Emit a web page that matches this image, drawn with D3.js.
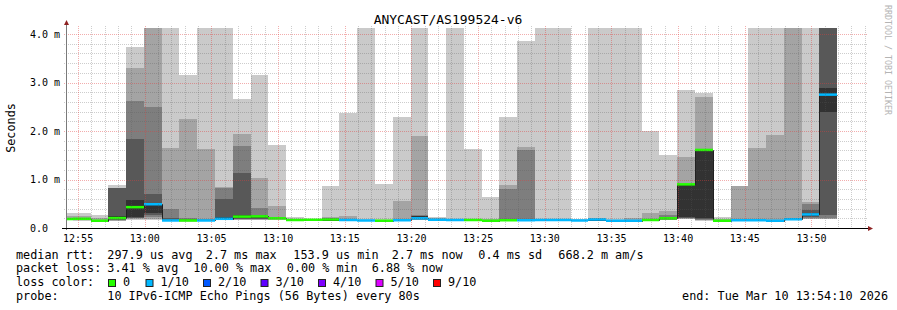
<!DOCTYPE html>
<html>
<head>
<meta charset="utf-8">
<title>ANYCAST/AS199524-v6</title>
<script src="https://cdn.jsdelivr.net/npm/d3@7"></script>
<style>
  body { margin: 0; background: #fff; }
  svg { display: block; font-family: "DejaVu Sans Mono", monospace; }
</style>
</head>
<body>
<svg id="chart" width="897" height="310"></svg>
<script>
// smokeping graph: one column every 80 s, 10 pings per column, values in ms
var stepSeconds = 80;
var median = [0.185, 0.19, 0.15, 0.205, 0.43, 0.49, 0.155, 0.155, 0.155, 0.19,
  0.235, 0.24, 0.2, 0.165, 0.17, 0.175, 0.165, 0.155, 0.15, 0.16,
  0.2, 0.17, 0.165, 0.165, 0.15, 0.16, 0.16, 0.165, 0.165, 0.155,
  0.175, 0.15, 0.15, 0.165, 0.2, 0.9, 1.61, 0.15, 0.16, 0.16,
  0.15, 0.18, 0.28, 2.75];
// lost pings out of 10
var loss = [0, 0, 0, 0, 0, 1, 1, 0, 1, 1,
  0, 0, 0, 0, 0, 0, 1, 1, 0, 1,
  1, 1, 1, 0, 0, 0, 1, 1, 1, 1,
  1, 1, 1, 0, 0, 0, 0, 0, 1, 1,
  1, 1, 1, 1];
// sorted pings (p10 = slowest). 9 = above the scale, null = no value
var p10 = [0.30, 0.31, 0.27, 0.885, 3.74, 9, 9, 3.15, 9, 9,
  2.67, 3.15, 1.71, 0.22, 0.19, 0.87, 2.38, 9, 0.91, 2.29,
  9, 0.23, 9, 1.63, 0.64, 2.29, 3.86, 9, 9, 0.18,
  9, 9, 9, 2.0, 1.5, 2.84, 2.79, 0.22, null, 9,
  9, null, 9, 9];
var p9 = [0.25, 0.24, 0.2, 0.82, 3.30, 9, 1.65, 2.25, 1.62, 0.84,
  1.94, 1.03, 0.45, 0.19, 0.18, 0.23, 0.25, 0.17, 0.17, 0.56,
  1.9, 0.2, 0.19, 0.19, 0.18, 0.885, 1.67, 0.19, 0.19, 0.17,
  0.2, 0.17, 0.2, 0.31, 0.35, 1.47, 2.70, 0.18, 0.87, 1.65,
  1.92, 9, 0.54, 9];
var p8 = [0.21, 0.2, 0.17, 0.82, 2.62, 2.5, 0.40, 0.2, 0.19, 0.82,
  1.69, 0.42, 0.22, 0.18, 0.175, 0.2, 0.19, 0.165, 0.165, 0.19,
  0.26, 0.19, 0.18, 0.18, 0.17, 0.80, 1.61, 0.18, 0.18, 0.165,
  0.19, 0.165, 0.17, 0.19, 0.27, 0.9, 1.61, 0.17, 0.18, 0.18,
  0.17, 0.2, 0.50, 9];
var p7 = [0.2, 0.19, 0.16, 0.82, 1.83, 0.70, 0.2, 0.18, 0.17, 0.6,
  1.14, 0.27, 0.21, 0.175, 0.17, 0.19, 0.175, 0.16, 0.16, 0.17,
  0.25, 0.18, 0.175, 0.175, 0.16, 0.19, 0.19, 0.175, 0.175, 0.16,
  0.185, 0.16, 0.16, 0.175, 0.22, 0.9, 1.61, 0.16, 0.17, 0.17,
  0.16, 0.19, 0.37, 9];
var p6 = [0.19, 0.19, 0.155, 0.24, 0.58, 0.52, 0.17, 0.17, 0.165, 0.22,
  0.27, 0.25, 0.205, 0.17, 0.17, 0.18, 0.17, 0.16, 0.155, 0.165,
  0.24, 0.175, 0.17, 0.17, 0.155, 0.17, 0.17, 0.17, 0.17, 0.16,
  0.18, 0.155, 0.155, 0.17, 0.21, 0.9, 1.61, 0.155, 0.165, 0.165,
  0.155, 0.185, 0.30, 2.88];
var p5 = [0.18, 0.165, 0.15, 0.19, 0.23, 0.30, 0.15, 0.15, 0.15, 0.18,
  0.2, 0.2, 0.19, 0.16, 0.165, 0.17, 0.16, 0.15, 0.15, 0.155,
  0.19, 0.165, 0.16, 0.16, 0.15, 0.155, 0.155, 0.16, 0.16, 0.15,
  0.17, 0.15, 0.15, 0.16, 0.19, 0.23, 0.2, 0.15, 0.155, 0.155,
  0.15, 0.175, 0.24, 2.40];
var p4 = [0.17, 0.16, 0.145, 0.17, 0.21, 0.26, 0.145, 0.14, 0.145, 0.17,
  0.19, 0.19, 0.18, 0.155, 0.16, 0.165, 0.155, 0.15, 0.145, 0.15,
  0.18, 0.16, 0.16, 0.16, 0.145, 0.15, 0.15, 0.16, 0.16, 0.15,
  0.165, 0.145, 0.145, 0.155, 0.18, 0.21, 0.18, 0.145, 0.15, 0.15,
  0.145, 0.17, 0.22, 0.27];
var p3 = [0.17, 0.16, 0.14, 0.16, 0.2, 0.22, 0.14, 0.14, 0.14, 0.165,
  0.18, 0.18, 0.18, 0.15, 0.16, 0.16, 0.15, 0.145, 0.145, 0.15,
  0.17, 0.16, 0.155, 0.155, 0.145, 0.15, 0.15, 0.155, 0.155, 0.145,
  0.16, 0.145, 0.145, 0.15, 0.175, 0.2, 0.17, 0.14, 0.15, 0.15,
  0.145, 0.165, 0.2, 0.2];
var p2 = [0.16, 0.155, 0.14, 0.15, 0.18, 0.19, 0.14, 0.135, 0.14, 0.16,
  0.17, 0.17, 0.17, 0.15, 0.155, 0.16, 0.15, 0.145, 0.14, 0.145,
  0.165, 0.155, 0.15, 0.15, 0.14, 0.145, 0.145, 0.15, 0.15, 0.145,
  0.16, 0.14, 0.14, 0.15, 0.17, 0.19, 0.16, 0.14, 0.145, 0.145,
  0.14, 0.16, 0.19, 0.19];
var p1 = [0.16, 0.15, 0.13, 0.14, 0.17, 0.17, 0.135, 0.13, 0.135, 0.155,
  0.16, 0.16, 0.16, 0.14, 0.15, 0.155, 0.145, 0.14, 0.14, 0.14,
  0.16, 0.15, 0.15, 0.15, 0.14, 0.14, 0.14, 0.15, 0.15, 0.14,
  0.155, 0.14, 0.14, 0.145, 0.165, 0.18, 0.15, 0.135, 0.14, 0.14,
  0.14, 0.155, 0.18, 0.18];

var yTicks = [0, 1, 2, 3, 4];
var yTickLabels = ["0.0", "1.0 m", "2.0 m", "3.0 m", "4.0 m"];
var lossColors = ["#26ff00", "#00b8ff", "#0059ff", "#5e00ff", "#7e00ff", "#dd00ff", "#ff0000"];
var lossLabels = ["0", "1/10", "2/10", "3/10", "4/10", "5/10", "9/10"];
var lossLevel = [0, 1, 2, 3, 4, 5, 9];
var rttStats = ["median rtt:", "297.9 us avg", "2.7 ms max", "153.9 us min", "2.7 ms now", "0.4 ms sd", "668.2 m am/s"];
var lossStats = ["packet loss:", "3.41 % avg", "10.00 % max", "0.00 % min", "6.88 % now"];
var probeText = ["probe:", "10 IPv6-ICMP Echo Pings (56 Bytes) every 80s"];
var endText = "end: Tue Mar 10 13:54:10 2026";

// ---- layout
var tStart = Date.UTC(2026, 2, 10, 12, 54, 10),
    tEnd = Date.UTC(2026, 2, 10, 13, 54, 10),
    firstStepEnd = Date.UTC(2026, 2, 10, 12, 54, 36);
var pLeft = 67, pRight = 867, pTop = 28, pBottom = 228;

var x = d3.scaleUtc().domain([tStart, tEnd]).range([pLeft, pRight]);
var y = d3.scaleLinear().domain([0, 4.124]).range([pBottom, pTop]).clamp(true);

var steps = median.map(function (m, i) {
  return {
    start: firstStepEnd + (i - 1) * stepSeconds * 1000,
    end: firstStepEnd + i * stepSeconds * 1000,
    med: m,
    loss: loss[i],
    hi: [p10[i], p9[i], p8[i], p7[i], p6[i]],
    lo: [p1[i], p2[i], p3[i], p4[i], p5[i]]
  };
});

var svg = d3.select("#chart");
svg.append("rect").attr("width", 897).attr("height", 310).attr("fill", "#fff");

svg.append("defs").append("clipPath").attr("id", "plot")
  .append("rect").attr("x", pLeft).attr("y", pTop)
  .attr("width", pRight - pLeft).attr("height", pBottom - pTop);

var plot = svg.append("g").attr("clip-path", "url(#plot)");

// smoke: band i spans p(i+1) .. p(10-i), darker towards the middle
var shades = [202, 164, 126, 88, 50];
shades.forEach(function (s, b) {
  plot.append("g").attr("shape-rendering", "crispEdges")
    .selectAll("rect")
    .data(steps.filter(function (d) { return d.hi[b] != null && d.lo[b] != null; }))
    .join("rect")
    .attr("x", function (d) { return Math.round(x(d.start)); })
    .attr("width", function (d) { return Math.round(x(d.end)) - Math.round(x(d.start)); })
    .attr("y", function (d) { return Math.round(y(d.hi[b])); })
    .attr("height", function (d) { return Math.round(y(d.lo[b])) - Math.round(y(d.hi[b])); })
    .attr("fill", d3.rgb(s, s, s));
});

// thin dark median line
var medPts = steps.map(function (d) { return [d.start, d.med]; });
medPts.push([steps[steps.length - 1].end, steps[steps.length - 1].med]);
plot.append("path")
  .attr("d", d3.line().curve(d3.curveStepAfter)
    .x(function (d) { return Math.round(x(d[0])) + 0.5; })
    .y(function (d) { return Math.round(y(d[1])) + 0.5; })(medPts))
  .attr("fill", "none").attr("stroke", "#202020").attr("stroke-width", 1);

// median coloured by loss
plot.append("g").selectAll("rect").data(steps).join("rect")
  .attr("x", function (d) { return Math.round(x(d.start)); })
  .attr("width", function (d) { return Math.round(x(d.end)) - Math.round(x(d.start)); })
  .attr("y", function (d) { return y(d.med) - 1.25; })
  .attr("height", 2.5)
  .attr("fill", function (d) { return lossColors[lossLevel.indexOf(d.loss)]; });

// grid (drawn over the data, like rrdtool)
var grid = svg.append("g").attr("shape-rendering", "crispEdges").attr("stroke-dasharray", "1,1");
var minorT = d3.utcMinute.every(1).range(tStart, tEnd);
var majorT = d3.utcMinute.every(5).range(tStart, tEnd);
var majorSet = majorT.map(function (d) { return +d; });
var minorV = d3.range(0.2, 4.124, 0.2).filter(function (v) { return Math.abs(v - Math.round(v)) > 0.01; });
var minorCol = "rgba(90,90,90,0.3)", majorCol = "rgba(225,60,60,0.42)";

grid.selectAll(".vmin").data(minorT.filter(function (d) { return majorSet.indexOf(+d) < 0; }))
  .join("line").attr("class", "vmin")
  .attr("x1", function (d) { return Math.round(x(d)) + 0.5; })
  .attr("x2", function (d) { return Math.round(x(d)) + 0.5; })
  .attr("y1", pTop - 2).attr("y2", pBottom + 2)
  .attr("stroke", minorCol);
grid.selectAll(".hmin").data(minorV).join("line").attr("class", "hmin")
  .attr("x1", pLeft - 3).attr("x2", pRight + 1)
  .attr("y1", function (d) { return Math.round(y(d)) + 0.5; })
  .attr("y2", function (d) { return Math.round(y(d)) + 0.5; })
  .attr("stroke", minorCol);
grid.selectAll(".vmaj").data(majorT).join("line").attr("class", "vmaj")
  .attr("x1", function (d) { return Math.round(x(d)) + 0.5; })
  .attr("x2", function (d) { return Math.round(x(d)) + 0.5; })
  .attr("y1", pTop - 2).attr("y2", pBottom + 2)
  .attr("stroke", majorCol);
grid.selectAll(".hmaj").data(yTicks.slice(1)).join("line").attr("class", "hmaj")
  .attr("x1", pLeft - 3).attr("x2", pRight + 1)
  .attr("y1", function (d) { return Math.round(y(d)) + 0.5; })
  .attr("y2", function (d) { return Math.round(y(d)) + 0.5; })
  .attr("stroke", majorCol);

// axes
var axes = svg.append("g").attr("shape-rendering", "crispEdges");
axes.append("line").attr("x1", pLeft - 0.5).attr("x2", pLeft - 0.5)
  .attr("y1", pTop - 4).attr("y2", pBottom + 2).attr("stroke", "#7a7a7a");
axes.append("line").attr("x1", pLeft - 5).attr("x2", pRight + 2)
  .attr("y1", pBottom + 0.5).attr("y2", pBottom + 0.5).attr("stroke", "#000");
svg.append("path").attr("d", "M" + (pLeft - 3) + "," + (pTop - 3) + "L" + (pLeft - 0.5) + "," + (pTop - 8) + "L" + (pLeft + 2) + "," + (pTop - 3) + "Z")
  .attr("fill", "#8e2222");
svg.append("path").attr("d", "M" + (pRight + 1) + "," + (pBottom - 2) + "L" + (pRight + 6) + "," + (pBottom + 0.5) + "L" + (pRight + 1) + "," + (pBottom + 3) + "Z")
  .attr("fill", "#8e2222");

// tick labels
svg.append("g").selectAll("text").data(yTicks).join("text")
  .attr("x", 30).attr("y", function (d) { return y(d) + 3.6; })
  .attr("font-size", "10px").attr("fill", "#000")
  .text(function (d, i) { return yTickLabels[i]; });
svg.append("g").selectAll("text").data(majorT).join("text")
  .attr("x", function (d) { return x(d); }).attr("y", 241.5)
  .attr("text-anchor", "middle").attr("font-size", "10px").attr("fill", "#000")
  .text(d3.utcFormat("%H:%M"));

// titles
svg.append("text").attr("x", 448).attr("y", 24).attr("text-anchor", "middle")
  .attr("font-size", "13px").text("ANYCAST/AS199524-v6");
svg.append("text").attr("transform", "translate(15,128) rotate(-90)")
  .attr("text-anchor", "middle").attr("font-size", "11.8px").text("Seconds");
svg.append("text").attr("transform", "translate(885,60) rotate(90)")
  .attr("text-anchor", "middle").attr("font-size", "8.3px").attr("fill", "#b4b4b4")
  .text("RRDTOOL / TOBI OETIKER");

// legend
var lg = svg.append("g").attr("font-size", "11.8px").attr("fill", "#000");
var rttX = [16, 107.3, 205.7, 293.3, 391.7, 478.3, 558.3];
rttStats.forEach(function (s, i) { lg.append("text").attr("x", rttX[i]).attr("y", 258.5).text(s); });
var lossX = [16, 107.3, 193.3, 286.7, 371.7];
lossStats.forEach(function (s, i) { lg.append("text").attr("x", lossX[i]).attr("y", 272.3).text(s); });
lg.append("text").attr("x", 16).attr("y", 286.1).text("loss color:");
var boxX = [108.5, 146, 203.5, 261, 318.5, 376, 433.5];
lossColors.forEach(function (c, i) {
  lg.append("rect").attr("x", boxX[i]).attr("y", 279.5).attr("width", 7).attr("height", 7)
    .attr("fill", c).attr("stroke", "#222").attr("stroke-width", 1);
  lg.append("text").attr("x", boxX[i] + 14.5).attr("y", 286.1).text(lossLabels[i]);
});
lg.append("text").attr("x", 16).attr("y", 300).text(probeText[0]);
lg.append("text").attr("x", 107.3).attr("y", 300).text(probeText[1]);
lg.append("text").attr("x", 888).attr("y", 300).attr("text-anchor", "end").text(endText);
</script>
</body>
</html>
